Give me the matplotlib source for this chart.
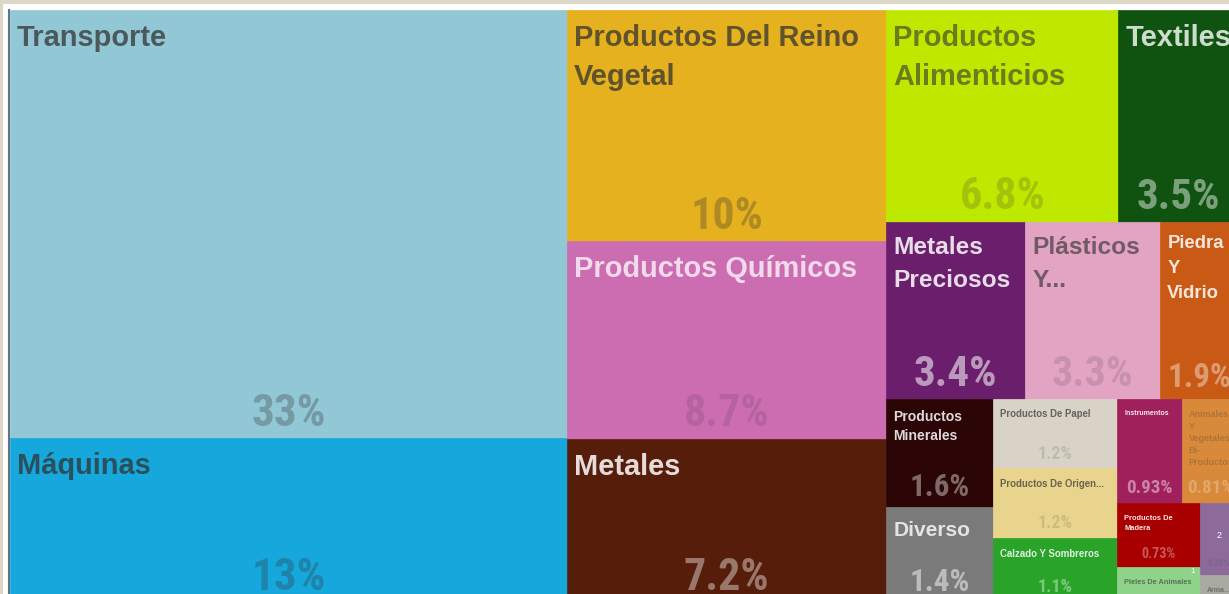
import matplotlib
matplotlib.use("Agg")
import matplotlib.pyplot as plt
from matplotlib.patches import Rectangle
from matplotlib import font_manager as fm

# ---------------- data ----------------
names = ["Transporte", "Máquinas", "Productos Del Reino\nVegetal", "Productos Químicos", "Metales",
         "Productos\nAlimenticios", "Textiles", "Metales\nPreciosos", "Plásticos\nY...", "Piedra\nY\nVidrio",
         "Productos\nMinerales", "Diverso", "Productos De Papel", "Productos De Origen...",
         "Calzado Y Sombreros", "Instrumentos", "Animales\nY\nVegetales\nBi-\nProductos",
         "Productos De\nMadera", "Pieles De Animales", "", "Arma..."]
shares = [33.0, 12.6, 10.2, 8.7, 7.2,
          6.8, 3.5, 3.4, 3.3, 1.9,
          1.6, 1.4, 1.2, 1.2,
          1.1, 0.93, 0.81,
          0.73, 0.40, 0.38, 0.14]
colors = ["#92c7d5", "#16a8dc", "#e5b11e", "#cc6cb1", "#561d0a",
          "#bfe800", "#105310", "#6a1e6c", "#e3a3c3", "#c85a15",
          "#2b0505", "#7a7a7a", "#d8d3c6", "#e9d48d",
          "#2aa329", "#a0205c", "#d88a3a",
          "#a80000", "#8fd38a", "#8c6b9b", "#a9aaa2"]
tags = {18: "1", 19: "2"}

# hierarchical grouping of the cells (h = side by side, v = stacked)
layout = ("h", [("v", [0, 1]),
                ("v", [2, 3, 4]),
                ("v", [("h", [5, 6]),
                       ("h", [7, 8, 9]),
                       ("h", [("v", [10, 11]),
                              ("v", [12, 13, 14]),
                              ("v", [("h", [15, 16]),
                                     ("h", [("v", [17, 18]), ("v", [19, 20])])])])])])

# ---------------- style ----------------
name_px = [29, 29, 29, 29, 29, 29, 29, 24.5, 24.5, 18.5, 14, 21, 9.6, 9.6, 9.6, 7, 9, 7.5, 7.4, 0, 7]
pct_px = [45, 45, 44, 44, 44, 44, 43, 43, 42, 33, 31, 31, 18, 18, 18, 19, 19, 14, 0, 9, 0]
DARK = ("#333333", 0.75, "#333333", 0.30)
LIGHT = ("#ffffff", 0.85, "#ffffff", 0.40)
styles = [DARK, DARK, DARK, ("#ffffff", 0.75, "#333333", 0.15), LIGHT,
          ("#333333", 0.6, "#333333", 0.2), ("#ffffff", 0.8, "#ffffff", 0.45), ("#ffffff", 0.85, "#ffffff", 0.55),
          ("#333333", 0.65, "#333333", 0.15), LIGHT,
          LIGHT, ("#ffffff", 0.8, "#ffffff", 0.5), ("#333333", 0.7, "#333333", 0.15), ("#333333", 0.7, "#333333", 0.15),
          ("#ffffff", 0.85, "#ffffff", 0.4), ("#ffffff", 0.9, "#ffffff", 0.45), ("#333333", 0.25, "#ffffff", 0.25),
          ("#ffffff", 0.9, "#ffffff", 0.35), ("#333333", 0.6, "#333333", 0.3), ("#333333", 0.2, "#333333", 0.15),
          ("#333333", 0.5, "#333333", 0.3)]

NAME_FONT = ["Liberation Sans", "DejaVu Sans"]


def find_condensed_bold():
    best = None
    for f in fm.fontManager.ttflist:
        nm = f.name.lower()
        fn = f.fname.lower()
        cond = ("narrow" in nm or "condensed" in nm or "narrow" in fn or "condensed" in fn
                or str(f.stretch).lower() in ("condensed", "semi-condensed", "extra-condensed"))
        bold = (str(f.weight).lower() in ("bold", "700", "heavy", "black", "semibold", "600")
                or "bold" in fn)
        if not (cond and bold) or "oblique" in fn or "italic" in fn:
            continue
        score = 0
        if "liberation" in nm and "narrow" in nm:
            score = 3
        elif "arial" in nm:
            score = 3
        elif "roboto" in nm:
            score = 2
        elif "dejavu" in nm:
            score = 1
        if best is None or score > best[0]:
            best = (score, f.fname)
    return best


found = find_condensed_bold()
if found is not None:
    PCT_PROPS = dict(fontproperties=fm.FontProperties(fname=found[1]))
    PCT_SCALE = 1.0 if found[0] >= 2 else 0.9
else:
    PCT_PROPS = dict(family=["Liberation Sans", "DejaVu Sans"], fontweight="bold")
    PCT_SCALE = 0.84

FIG_W, FIG_H = 1229, 594
TM_W, TM_H = 1228, 592   # full treemap extent (px); view is cropped


def total(node):
    if isinstance(node, int):
        return shares[node]
    return sum(total(c) for c in node[1])


def place(node, x, y, w, h, out):
    if isinstance(node, int):
        out[node] = (x, y, w, h)
        return
    kind, children = node
    s = total(node)
    pos = 0.0
    for c in children:
        f = total(c) / s
        if kind == "h":
            place(c, x + pos * w, y, f * w, h, out)
        else:
            place(c, x, y + pos * h, w, f * h, out)
        pos += f


rects = {}
place(layout, 0, 0, TM_W, TM_H, rects)

fig = plt.figure(figsize=(FIG_W / 100, FIG_H / 100), dpi=100, facecolor="white")
fig.patches.append(Rectangle((0, 1 - 4 / FIG_H), 1, 4 / FIG_H, transform=fig.transFigure,
                             facecolor="#ddd7c8", edgecolor="none"))
fig.patches.append(Rectangle((0, 0), 3 / FIG_W, 1, transform=fig.transFigure,
                             facecolor="#ddd7c8", edgecolor="none"))

ax = fig.add_axes([10 / FIG_W, 0, (FIG_W - 10) / FIG_W, (FIG_H - 10) / FIG_H])
ax.set_xlim(0, FIG_W - 10)
ax.set_ylim(FIG_H - 10, 0)
ax.axis("off")

PT = 0.72  # px -> pt at 100 dpi

for i in range(len(shares)):
    x, y, w, h = rects[i]
    r = Rectangle((x, y), w, h, facecolor=colors[i], edgecolor=colors[i], lw=0.5)
    ax.add_patch(r)
    nc, na, pc, pa = styles[i]
    fs = name_px[i]
    if names[i] and fs > 0:
        pad = 10 + 0.18 * fs
        for k, line in enumerate(names[i].split("\n")):
            t = ax.text(x + 7, y + pad + 0.716 * fs + k * 1.35 * fs, line, fontsize=fs * PT,
                        family=NAME_FONT, fontweight="bold", color=nc, alpha=na,
                        ha="left", va="baseline")
            t.set_clip_path(r)
    ps = pct_px[i]
    if ps > 0:
        t = ax.text(x + w / 2, y + h - (8 + 0.1 * ps), f"{shares[i]:.2g}%", fontsize=ps * PT * PCT_SCALE,
                    color=pc, alpha=pa, ha="center", va="baseline", **PCT_PROPS)
        t.set_clip_path(r)
    if i in tags:
        if i == 18:
            ax.text(x + w - 5, y + 1, tags[i], fontsize=8 * PT, family=NAME_FONT,
                    color="white", ha="right", va="top")
        else:
            ax.text(x + w / 2, y + 0.45 * h, tags[i], fontsize=9 * PT, family=NAME_FONT,
                    color="white", ha="center", va="center")

ax.plot([-1, -1], [0, FIG_H], color="#1d3a4c", lw=1.5, alpha=0.7, clip_on=False)

fig.savefig("out.png", dpi=100, facecolor="white")
